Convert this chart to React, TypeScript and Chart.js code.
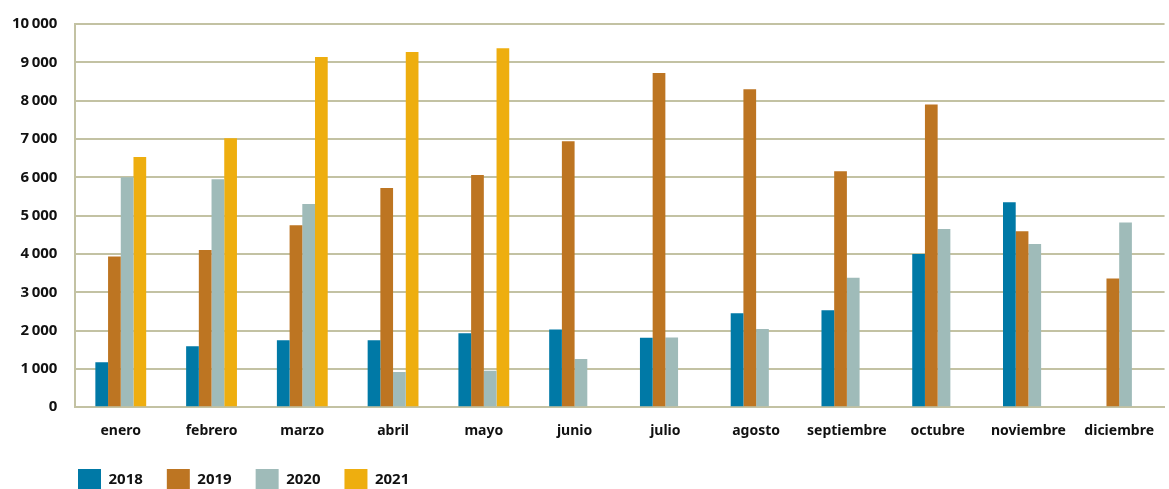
import React, { useEffect, useRef } from "react";
import { Chart, registerables } from "chart.js";

Chart.register(...registerables);

const categories = ["enero", "febrero", "marzo", "abril", "mayo", "junio", "julio", "agosto", "septiembre", "octubre", "noviembre", "diciembre"];
const seriesLabels = ["2018", "2019", "2020", "2021"];
const values2018 = [1170, 1590, 1750, 1750, 1930, 2030, 1810, 2450, 2530, 4000, 5350, null];
const values2019 = [3930, 4100, 4750, 5720, 6060, 6940, 8720, 8300, 6160, 7900, 4590, 3360];
const values2020 = [6000, 5950, 5300, 920, 950, 1260, 1820, 2040, 3380, 4650, 4260, 4820];
const values2021 = [6530, 7020, 9140, 9270, 9370, null, null, null, null, null, null, null];
const colors = ["#0079a6", "#bd7522", "#9fbbb9", "#eeae0f"];
const gridColor = "#c3c2a3";

const legendPlacer = {
  id: "legendPlacer",
  beforeInit(chart: any) {
    const legend = chart.legend;
    if (legend && !legend.__patched) {
      const origFit = legend.fit.bind(legend);
      legend.fit = function () {
        origFit();
        this.height = 35;
      };
      legend.__patched = true;
    }
  },
  afterLayout(chart: any) {
    const legend = chart.legend;
    if (!legend) return;
    const pad = 24;
    const w = legend.width;
    legend.left = 78 - pad;
    legend.right = legend.left + w;
    legend.top = 469 - pad;
    legend.height = 80;
    legend.bottom = legend.top + 80;
  },
};

export default function App() {
  const ref = useRef<HTMLCanvasElement | null>(null);
  useEffect(() => {
    if (!ref.current) return;
    const all = [values2018, values2019, values2020, values2021];
    const xFont = { family: "'Noto Sans', sans-serif", size: 14, weight: "bold" as const };
    const yFont = { family: "'Noto Sans', sans-serif", size: 15, weight: "bold" as const, lineHeight: 0.8 };
    const legendFont = { family: "'Noto Sans', sans-serif", size: 15, weight: "bold" as const };
    const chart = new Chart(ref.current, {
      type: "bar",
      data: {
        labels: categories,
        datasets: all.map((d, i) => ({
          label: seriesLabels[i],
          data: d,
          backgroundColor: colors[i],
          borderWidth: 0,
          categoryPercentage: 0.56,
          barPercentage: 1,
        })),
      },
      plugins: [legendPlacer],
      options: {
        animation: false,
        responsive: true,
        maintainAspectRatio: false,
        layout: { padding: { left: -6, right: 0, top: 0, bottom: 0 } },
        plugins: {
          tooltip: { enabled: false },
          legend: {
            position: "bottom",
            align: "start",
            labels: {
              color: "#111",
              font: legendFont,
              boxWidth: 23,
              boxHeight: 22,
              padding: 24,
            },
          },
        },
        scales: {
          x: {
            grid: { display: false, drawTicks: false },
            border: { display: true, color: gridColor, width: 2 },
            ticks: { color: "#111", font: xFont, padding: 15, maxRotation: 0, autoSkip: false },
          },
          y: {
            min: 0,
            max: 10000,
            grid: { color: gridColor, lineWidth: 2, drawTicks: false },
            border: { display: true, color: gridColor, width: 2 },
            ticks: {
              stepSize: 1000,
              color: "#111",
              font: yFont,
              padding: 18,
              callback: (v: any) => {
                const n = Number(v);
                if (n >= 1000) {
                  const th = Math.floor(n / 1000);
                  return th + "\u2009" + "000";
                }
                return String(n);
              },
            },
          },
        },
      },
    });
    return () => chart.destroy();
  }, []);
  return (
    <div style={{ position: "fixed", left: 0, top: 0, width: 1169, height: 489, background: "#fff" }}>
      <canvas ref={ref} />
    </div>
  );
}
